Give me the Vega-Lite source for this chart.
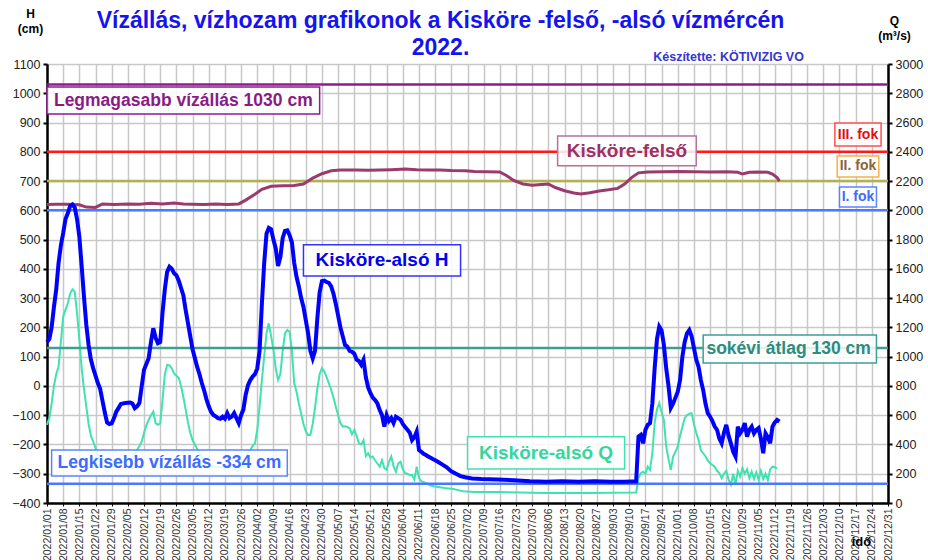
{
 "$schema": "https://vega.github.io/schema/vega-lite/v6.json",
 "width": 841,
 "height": 439,
 "autosize": {"type": "none"},
 "padding": {"left": 47, "top": 64, "right": 40, "bottom": 57},
 "background": "white",
 "config": {"view": {"stroke": null}, "font": "Liberation Sans"},
 "title": {
  "text": ["Vízállás, vízhozam grafikonok a Kisköre -felső, -alsó vízmércén", "2022."],
  "font": "Liberation Sans", "fontSize": 23, "fontWeight": "bold", "color": "#1414F0",
  "anchor": "middle", "frame": "group", "dx": -27, "offset": -53, "lineHeight": 27
 },
 "datasets": {
  "felso": [
   {"date":"2022-01-01","value":620},{"date":"2022-01-05","value":621},{"date":"2022-01-10","value":621},{"date":"2022-01-15","value":619},{"date":"2022-01-18","value":611},{"date":"2022-01-22","value":610},{"date":"2022-01-25","value":622},{"date":"2022-01-30","value":620},{"date":"2022-02-05","value":622},{"date":"2022-02-10","value":621},{"date":"2022-02-15","value":624},{"date":"2022-02-20","value":622},{"date":"2022-02-25","value":625},{"date":"2022-03-01","value":622},{"date":"2022-03-05","value":621},{"date":"2022-03-10","value":620},{"date":"2022-03-15","value":622},{"date":"2022-03-20","value":620},{"date":"2022-03-25","value":622},{"date":"2022-03-28","value":635},{"date":"2022-04-01","value":655},{"date":"2022-04-04","value":672},{"date":"2022-04-08","value":682},{"date":"2022-04-13","value":684},{"date":"2022-04-18","value":685},{"date":"2022-04-22","value":690},{"date":"2022-04-26","value":710},{"date":"2022-04-30","value":725},{"date":"2022-05-04","value":735},{"date":"2022-05-08","value":738},{"date":"2022-05-15","value":738},{"date":"2022-05-20","value":737},{"date":"2022-05-25","value":738},{"date":"2022-05-30","value":739},{"date":"2022-06-05","value":741},{"date":"2022-06-10","value":739},{"date":"2022-06-15","value":738},{"date":"2022-06-20","value":738},{"date":"2022-06-25","value":736},{"date":"2022-07-01","value":735},{"date":"2022-07-05","value":733},{"date":"2022-07-10","value":732},{"date":"2022-07-16","value":731},{"date":"2022-07-19","value":718},{"date":"2022-07-22","value":702},{"date":"2022-07-26","value":690},{"date":"2022-07-30","value":686},{"date":"2022-08-03","value":688},{"date":"2022-08-06","value":690},{"date":"2022-08-09","value":678},{"date":"2022-08-13","value":667},{"date":"2022-08-17","value":659},{"date":"2022-08-20","value":656},{"date":"2022-08-24","value":660},{"date":"2022-08-28","value":666},{"date":"2022-09-01","value":670},{"date":"2022-09-05","value":675},{"date":"2022-09-08","value":690},{"date":"2022-09-11","value":712},{"date":"2022-09-14","value":728},{"date":"2022-09-18","value":731},{"date":"2022-09-25","value":732},{"date":"2022-10-01","value":733},{"date":"2022-10-08","value":732},{"date":"2022-10-15","value":731},{"date":"2022-10-22","value":732},{"date":"2022-10-27","value":730},{"date":"2022-10-29","value":724},{"date":"2022-11-01","value":730},{"date":"2022-11-05","value":731},{"date":"2022-11-09","value":730},{"date":"2022-11-11","value":724},{"date":"2022-11-13","value":712},{"date":"2022-11-14","value":700}
  ],
  "alsoH": [
   {"date":"2022-01-01","value":150},{"date":"2022-01-02","value":160},{"date":"2022-01-03","value":200},{"date":"2022-01-04","value":270},{"date":"2022-01-05","value":330},{"date":"2022-01-06","value":420},{"date":"2022-01-07","value":480},{"date":"2022-01-08","value":522},{"date":"2022-01-09","value":570},{"date":"2022-01-10","value":590},{"date":"2022-01-11","value":615},{"date":"2022-01-12","value":620},{"date":"2022-01-13","value":610},{"date":"2022-01-14","value":570},{"date":"2022-01-15","value":510},{"date":"2022-01-16","value":410},{"date":"2022-01-17","value":305},{"date":"2022-01-18","value":210},{"date":"2022-01-19","value":140},{"date":"2022-01-20","value":90},{"date":"2022-01-21","value":60},{"date":"2022-01-23","value":10},{"date":"2022-01-24","value":-10},{"date":"2022-01-25","value":-50},{"date":"2022-01-26","value":-90},{"date":"2022-01-27","value":-125},{"date":"2022-01-28","value":-130},{"date":"2022-01-29","value":-128},{"date":"2022-01-30","value":-110},{"date":"2022-01-31","value":-88},{"date":"2022-02-01","value":-75},{"date":"2022-02-02","value":-62},{"date":"2022-02-04","value":-58},{"date":"2022-02-06","value":-57},{"date":"2022-02-07","value":-60},{"date":"2022-02-08","value":-76},{"date":"2022-02-09","value":-70},{"date":"2022-02-10","value":-58},{"date":"2022-02-11","value":0},{"date":"2022-02-12","value":55},{"date":"2022-02-13","value":75},{"date":"2022-02-14","value":95},{"date":"2022-02-15","value":150},{"date":"2022-02-16","value":197},{"date":"2022-02-17","value":165},{"date":"2022-02-18","value":146},{"date":"2022-02-19","value":150},{"date":"2022-02-20","value":250},{"date":"2022-02-21","value":330},{"date":"2022-02-22","value":390},{"date":"2022-02-23","value":407},{"date":"2022-02-24","value":400},{"date":"2022-02-25","value":385},{"date":"2022-02-26","value":378},{"date":"2022-02-27","value":360},{"date":"2022-02-28","value":335},{"date":"2022-03-01","value":310},{"date":"2022-03-02","value":260},{"date":"2022-03-03","value":215},{"date":"2022-03-04","value":170},{"date":"2022-03-05","value":125},{"date":"2022-03-06","value":95},{"date":"2022-03-07","value":65},{"date":"2022-03-08","value":40},{"date":"2022-03-09","value":10},{"date":"2022-03-10","value":-15},{"date":"2022-03-11","value":-45},{"date":"2022-03-12","value":-70},{"date":"2022-03-13","value":-88},{"date":"2022-03-14","value":-99},{"date":"2022-03-15","value":-104},{"date":"2022-03-16","value":-110},{"date":"2022-03-17","value":-112},{"date":"2022-03-18","value":-105},{"date":"2022-03-19","value":-112},{"date":"2022-03-20","value":-93},{"date":"2022-03-21","value":-110},{"date":"2022-03-22","value":-105},{"date":"2022-03-23","value":-93},{"date":"2022-03-24","value":-110},{"date":"2022-03-25","value":-127},{"date":"2022-03-26","value":-100},{"date":"2022-03-27","value":-80},{"date":"2022-03-28","value":-30},{"date":"2022-03-29","value":3},{"date":"2022-03-30","value":20},{"date":"2022-03-31","value":32},{"date":"2022-04-01","value":40},{"date":"2022-04-02","value":60},{"date":"2022-04-03","value":120},{"date":"2022-04-04","value":280},{"date":"2022-04-05","value":420},{"date":"2022-04-06","value":520},{"date":"2022-04-07","value":540},{"date":"2022-04-08","value":535},{"date":"2022-04-09","value":500},{"date":"2022-04-10","value":470},{"date":"2022-04-11","value":410},{"date":"2022-04-12","value":440},{"date":"2022-04-13","value":505},{"date":"2022-04-14","value":530},{"date":"2022-04-15","value":532},{"date":"2022-04-16","value":515},{"date":"2022-04-17","value":490},{"date":"2022-04-18","value":420},{"date":"2022-04-19","value":373},{"date":"2022-04-20","value":340},{"date":"2022-04-21","value":300},{"date":"2022-04-22","value":270},{"date":"2022-04-23","value":225},{"date":"2022-04-24","value":180},{"date":"2022-04-25","value":120},{"date":"2022-04-26","value":94},{"date":"2022-04-27","value":120},{"date":"2022-04-28","value":230},{"date":"2022-04-29","value":320},{"date":"2022-04-30","value":358},{"date":"2022-05-01","value":360},{"date":"2022-05-02","value":355},{"date":"2022-05-03","value":352},{"date":"2022-05-04","value":340},{"date":"2022-05-05","value":315},{"date":"2022-05-06","value":280},{"date":"2022-05-07","value":240},{"date":"2022-05-08","value":200},{"date":"2022-05-09","value":170},{"date":"2022-05-10","value":140},{"date":"2022-05-11","value":134},{"date":"2022-05-12","value":120},{"date":"2022-05-13","value":117},{"date":"2022-05-14","value":110},{"date":"2022-05-15","value":90},{"date":"2022-05-16","value":85},{"date":"2022-05-17","value":72},{"date":"2022-05-18","value":89},{"date":"2022-05-19","value":30},{"date":"2022-05-20","value":-5},{"date":"2022-05-21","value":-25},{"date":"2022-05-22","value":-40},{"date":"2022-05-23","value":-48},{"date":"2022-05-24","value":-60},{"date":"2022-05-25","value":-82},{"date":"2022-05-26","value":-100},{"date":"2022-05-27","value":-139},{"date":"2022-05-28","value":-100},{"date":"2022-05-29","value":-120},{"date":"2022-05-30","value":-110},{"date":"2022-05-31","value":-127},{"date":"2022-06-01","value":-105},{"date":"2022-06-02","value":-110},{"date":"2022-06-03","value":-115},{"date":"2022-06-04","value":-130},{"date":"2022-06-05","value":-140},{"date":"2022-06-06","value":-150},{"date":"2022-06-07","value":-160},{"date":"2022-06-08","value":-185},{"date":"2022-06-09","value":-175},{"date":"2022-06-10","value":-156},{"date":"2022-06-11","value":-219},{"date":"2022-06-12","value":-225},{"date":"2022-06-13","value":-232},{"date":"2022-06-14","value":-236},{"date":"2022-06-15","value":-241},{"date":"2022-06-17","value":-250},{"date":"2022-06-19","value":-258},{"date":"2022-06-21","value":-268},{"date":"2022-06-23","value":-278},{"date":"2022-06-25","value":-292},{"date":"2022-06-27","value":-300},{"date":"2022-06-29","value":-308},{"date":"2022-07-01","value":-312},{"date":"2022-07-04","value":-316},{"date":"2022-07-08","value":-318},{"date":"2022-07-15","value":-320},{"date":"2022-07-22","value":-322},{"date":"2022-07-29","value":-326},{"date":"2022-08-05","value":-327},{"date":"2022-08-12","value":-326},{"date":"2022-08-19","value":-327},{"date":"2022-08-26","value":-326},{"date":"2022-09-02","value":-327},{"date":"2022-09-08","value":-327},{"date":"2022-09-13","value":-326},{"date":"2022-09-14","value":-173},{"date":"2022-09-15","value":-167},{"date":"2022-09-16","value":-196},{"date":"2022-09-17","value":-150},{"date":"2022-09-18","value":-133},{"date":"2022-09-19","value":-127},{"date":"2022-09-20","value":-60},{"date":"2022-09-21","value":60},{"date":"2022-09-22","value":160},{"date":"2022-09-23","value":203},{"date":"2022-09-24","value":190},{"date":"2022-09-25","value":140},{"date":"2022-09-26","value":60},{"date":"2022-09-27","value":0},{"date":"2022-09-28","value":-75},{"date":"2022-09-29","value":-60},{"date":"2022-09-30","value":-40},{"date":"2022-10-01","value":-20},{"date":"2022-10-02","value":20},{"date":"2022-10-03","value":100},{"date":"2022-10-04","value":150},{"date":"2022-10-05","value":180},{"date":"2022-10-06","value":191},{"date":"2022-10-07","value":170},{"date":"2022-10-08","value":130},{"date":"2022-10-09","value":90},{"date":"2022-10-10","value":66},{"date":"2022-10-11","value":20},{"date":"2022-10-12","value":-14},{"date":"2022-10-13","value":-60},{"date":"2022-10-14","value":-93},{"date":"2022-10-15","value":-105},{"date":"2022-10-16","value":-120},{"date":"2022-10-17","value":-139},{"date":"2022-10-18","value":-150},{"date":"2022-10-19","value":-180},{"date":"2022-10-20","value":-196},{"date":"2022-10-21","value":-160},{"date":"2022-10-22","value":-133},{"date":"2022-10-23","value":-170},{"date":"2022-10-24","value":-196},{"date":"2022-10-25","value":-225},{"date":"2022-10-26","value":-241},{"date":"2022-10-27","value":-139},{"date":"2022-10-28","value":-162},{"date":"2022-10-29","value":-150},{"date":"2022-10-30","value":-127},{"date":"2022-10-31","value":-173},{"date":"2022-11-01","value":-150},{"date":"2022-11-02","value":-139},{"date":"2022-11-03","value":-162},{"date":"2022-11-04","value":-150},{"date":"2022-11-05","value":-144},{"date":"2022-11-06","value":-180},{"date":"2022-11-07","value":-230},{"date":"2022-11-08","value":-162},{"date":"2022-11-09","value":-175},{"date":"2022-11-10","value":-196},{"date":"2022-11-11","value":-139},{"date":"2022-11-12","value":-125},{"date":"2022-11-13","value":-116},{"date":"2022-11-14","value":-122}
  ],
  "alsoQ": [
   {"date":"2022-01-01","q":534},{"date":"2022-01-02","q":580},{"date":"2022-01-03","q":680},{"date":"2022-01-04","q":800},{"date":"2022-01-05","q":880},{"date":"2022-01-06","q":932},{"date":"2022-01-07","q":1100},{"date":"2022-01-08","q":1274},{"date":"2022-01-09","q":1320},{"date":"2022-01-10","q":1364},{"date":"2022-01-11","q":1430},{"date":"2022-01-12","q":1460},{"date":"2022-01-13","q":1444},{"date":"2022-01-14","q":1300},{"date":"2022-01-15","q":1120},{"date":"2022-01-16","q":920},{"date":"2022-01-17","q":780},{"date":"2022-01-18","q":660},{"date":"2022-01-19","q":540},{"date":"2022-01-20","q":460},{"date":"2022-01-21","q":420},{"date":"2022-01-22","q":374},{"date":"2022-01-23","q":330},{"date":"2022-01-24","q":294},{"date":"2022-01-25","q":260},{"date":"2022-01-26","q":230},{"date":"2022-01-27","q":214},{"date":"2022-01-28","q":230},{"date":"2022-01-29","q":256},{"date":"2022-01-30","q":250},{"date":"2022-01-31","q":276},{"date":"2022-02-01","q":294},{"date":"2022-02-03","q":276},{"date":"2022-02-05","q":290},{"date":"2022-02-07","q":300},{"date":"2022-02-08","q":330},{"date":"2022-02-09","q":362},{"date":"2022-02-10","q":390},{"date":"2022-02-11","q":420},{"date":"2022-02-12","q":480},{"date":"2022-02-13","q":530},{"date":"2022-02-14","q":568},{"date":"2022-02-15","q":600},{"date":"2022-02-16","q":624},{"date":"2022-02-17","q":546},{"date":"2022-02-18","q":534},{"date":"2022-02-19","q":544},{"date":"2022-02-20","q":704},{"date":"2022-02-21","q":880},{"date":"2022-02-22","q":944},{"date":"2022-02-23","q":940},{"date":"2022-02-24","q":920},{"date":"2022-02-25","q":886},{"date":"2022-02-26","q":870},{"date":"2022-02-27","q":856},{"date":"2022-02-28","q":800},{"date":"2022-03-01","q":726},{"date":"2022-03-02","q":640},{"date":"2022-03-03","q":550},{"date":"2022-03-04","q":480},{"date":"2022-03-05","q":430},{"date":"2022-03-06","q":400},{"date":"2022-03-07","q":370},{"date":"2022-03-08","q":340},{"date":"2022-03-09","q":310},{"date":"2022-03-10","q":284},{"date":"2022-03-11","q":260},{"date":"2022-03-13","q":250},{"date":"2022-03-15","q":244},{"date":"2022-03-17","q":248},{"date":"2022-03-19","q":240},{"date":"2022-03-21","q":248},{"date":"2022-03-23","q":230},{"date":"2022-03-25","q":214},{"date":"2022-03-26","q":250},{"date":"2022-03-27","q":276},{"date":"2022-03-28","q":294},{"date":"2022-03-29","q":350},{"date":"2022-03-30","q":362},{"date":"2022-03-31","q":390},{"date":"2022-04-01","q":408},{"date":"2022-04-02","q":500},{"date":"2022-04-03","q":658},{"date":"2022-04-04","q":840},{"date":"2022-04-05","q":1000},{"date":"2022-04-06","q":1160},{"date":"2022-04-07","q":1228},{"date":"2022-04-08","q":1140},{"date":"2022-04-09","q":1046},{"date":"2022-04-10","q":920},{"date":"2022-04-11","q":840},{"date":"2022-04-12","q":880},{"date":"2022-04-13","q":1040},{"date":"2022-04-14","q":1160},{"date":"2022-04-15","q":1182},{"date":"2022-04-16","q":1170},{"date":"2022-04-17","q":1040},{"date":"2022-04-18","q":820},{"date":"2022-04-19","q":760},{"date":"2022-04-20","q":680},{"date":"2022-04-21","q":610},{"date":"2022-04-22","q":540},{"date":"2022-04-23","q":490},{"date":"2022-04-24","q":464},{"date":"2022-04-25","q":466},{"date":"2022-04-26","q":540},{"date":"2022-04-27","q":650},{"date":"2022-04-28","q":780},{"date":"2022-04-29","q":880},{"date":"2022-04-30","q":922},{"date":"2022-05-01","q":900},{"date":"2022-05-02","q":860},{"date":"2022-05-03","q":818},{"date":"2022-05-04","q":772},{"date":"2022-05-05","q":720},{"date":"2022-05-06","q":658},{"date":"2022-05-07","q":600},{"date":"2022-05-08","q":546},{"date":"2022-05-09","q":522},{"date":"2022-05-10","q":524},{"date":"2022-05-11","q":520},{"date":"2022-05-12","q":510},{"date":"2022-05-13","q":470},{"date":"2022-05-14","q":500},{"date":"2022-05-15","q":460},{"date":"2022-05-16","q":408},{"date":"2022-05-17","q":400},{"date":"2022-05-18","q":430},{"date":"2022-05-19","q":320},{"date":"2022-05-20","q":340},{"date":"2022-05-21","q":310},{"date":"2022-05-22","q":318},{"date":"2022-05-23","q":290},{"date":"2022-05-24","q":270},{"date":"2022-05-25","q":248},{"date":"2022-05-26","q":294},{"date":"2022-05-27","q":238},{"date":"2022-05-28","q":226},{"date":"2022-05-29","q":280},{"date":"2022-05-30","q":318},{"date":"2022-05-31","q":250},{"date":"2022-06-01","q":214},{"date":"2022-06-02","q":270},{"date":"2022-06-03","q":282},{"date":"2022-06-04","q":230},{"date":"2022-06-05","q":204},{"date":"2022-06-06","q":200},{"date":"2022-06-07","q":190},{"date":"2022-06-08","q":192},{"date":"2022-06-09","q":160},{"date":"2022-06-10","q":248},{"date":"2022-06-11","q":170},{"date":"2022-06-12","q":150},{"date":"2022-06-14","q":136},{"date":"2022-06-16","q":120},{"date":"2022-06-18","q":112},{"date":"2022-06-20","q":108},{"date":"2022-06-23","q":100},{"date":"2022-06-26","q":96},{"date":"2022-06-28","q":88},{"date":"2022-06-30","q":80},{"date":"2022-07-05","q":76},{"date":"2022-07-15","q":76},{"date":"2022-07-25","q":72},{"date":"2022-08-04","q":68},{"date":"2022-08-14","q":68},{"date":"2022-08-24","q":68},{"date":"2022-09-03","q":70},{"date":"2022-09-13","q":72},{"date":"2022-09-14","q":170},{"date":"2022-09-15","q":204},{"date":"2022-09-16","q":214},{"date":"2022-09-17","q":200},{"date":"2022-09-18","q":248},{"date":"2022-09-19","q":226},{"date":"2022-09-20","q":340},{"date":"2022-09-21","q":546},{"date":"2022-09-22","q":640},{"date":"2022-09-23","q":682},{"date":"2022-09-24","q":620},{"date":"2022-09-25","q":568},{"date":"2022-09-26","q":386},{"date":"2022-09-27","q":300},{"date":"2022-09-28","q":226},{"date":"2022-09-29","q":318},{"date":"2022-09-30","q":350},{"date":"2022-10-01","q":386},{"date":"2022-10-02","q":460},{"date":"2022-10-03","q":520},{"date":"2022-10-04","q":580},{"date":"2022-10-05","q":600},{"date":"2022-10-06","q":610},{"date":"2022-10-07","q":614},{"date":"2022-10-08","q":540},{"date":"2022-10-09","q":480},{"date":"2022-10-10","q":430},{"date":"2022-10-11","q":360},{"date":"2022-10-12","q":340},{"date":"2022-10-13","q":320},{"date":"2022-10-14","q":290},{"date":"2022-10-15","q":272},{"date":"2022-10-16","q":260},{"date":"2022-10-17","q":248},{"date":"2022-10-18","q":220},{"date":"2022-10-19","q":204},{"date":"2022-10-20","q":170},{"date":"2022-10-21","q":200},{"date":"2022-10-22","q":220},{"date":"2022-10-23","q":160},{"date":"2022-10-24","q":124},{"date":"2022-10-25","q":200},{"date":"2022-10-26","q":124},{"date":"2022-10-27","q":220},{"date":"2022-10-28","q":180},{"date":"2022-10-29","q":238},{"date":"2022-10-30","q":200},{"date":"2022-10-31","q":230},{"date":"2022-11-01","q":170},{"date":"2022-11-02","q":214},{"date":"2022-11-03","q":164},{"date":"2022-11-04","q":210},{"date":"2022-11-05","q":160},{"date":"2022-11-06","q":220},{"date":"2022-11-07","q":164},{"date":"2022-11-08","q":200},{"date":"2022-11-09","q":156},{"date":"2022-11-10","q":230},{"date":"2022-11-11","q":248},{"date":"2022-11-12","q":244},{"date":"2022-11-13","q":236}
  ],
  "levels": [
   {"name":"max","value":1030},{"name":"III","value":800},{"name":"II","value":700},{"name":"I","value":600},{"name":"avg","value":130},{"name":"min","value":-334}
  ],
  "notes": [
   {"label":"Legmagasabb vízállás 1030 cm","start":"2022-01-01","end":"2022-04-29","lo":929,"hi":1021,"mid":"2022-03-01","cy":975},
   {"label":"Kisköre-felső","start":"2022-08-10","end":"2022-10-09","lo":752,"hi":854,"mid":"2022-09-09","cy":803},
   {"label":"Kisköre-alsó H","start":"2022-04-22","end":"2022-06-29","lo":376,"hi":482,"mid":"2022-05-26","cy":429},
   {"label":"sokévi átlag 130 cm","start":"2022-10-12","end":"2022-12-26","lo":78,"hi":174,"mid":"2022-11-18","cy":126},
   {"label":"Kisköre-alsó Q","start":"2022-07-02","end":"2022-09-08","lo":-284,"hi":-174,"mid":"2022-08-05","cy":-229},
   {"label":"Legkisebb vízállás -334 cm","start":"2022-01-03","end":"2022-04-15","lo":-308,"hi":-219,"mid":"2022-02-23","cy":-263},
   {"label":"III. fok","start":"2022-12-08","end":"2022-12-28","lo":820,"hi":898,"mid":"2022-12-18","cy":859},
   {"label":"II. fok","start":"2022-12-09","end":"2022-12-27","lo":714,"hi":786,"mid":"2022-12-18","cy":750},
   {"label":"I. fok","start":"2022-12-10","end":"2022-12-26","lo":611,"hi":680,"mid":"2022-12-18","cy":645}
  ],
  "credit": [
   {"label":"Készítette: KÖTIVIZIG VO","date":"2022-10-23","value":1124}
  ]
 },
 "layer": [
  {
   "data": {"name": "alsoQ"},
   "mark": {"type": "line", "color": "#3FE3B1", "strokeWidth": 2},
   "encoding": {
    "x": {
     "field": "date", "type": "temporal",
     "scale": {"type": "utc", "domain": [1640995200000, 1672444800000]},
     "axis": {
      "values": [1640995200000,1641600000000,1642204800000,1642809600000,1643414400000,1644019200000,1644624000000,1645228800000,1645833600000,1646438400000,1647043200000,1647648000000,1648252800000,1648857600000,1649462400000,1650067200000,1650672000000,1651276800000,1651881600000,1652486400000,1653091200000,1653696000000,1654300800000,1654905600000,1655510400000,1656115200000,1656720000000,1657324800000,1657929600000,1658534400000,1659139200000,1659744000000,1660348800000,1660953600000,1661558400000,1662163200000,1662768000000,1663372800000,1663977600000,1664582400000,1665187200000,1665792000000,1666396800000,1667001600000,1667606400000,1668211200000,1668816000000,1669420800000,1670025600000,1670630400000,1671235200000,1671840000000,1672444800000],
      "tickCount": 200,
      "format": "%Y/%m/%d", "labelAngle": 270, "labelFontSize": 10.5, "labelColor": "#333333",
      "labelFont": "Liberation Sans", "labelFlush": false, "labelOverlap": false, "labelBound": false, "labelPadding": 2,
      "grid": true, "gridColor": "#c8c8c8", "gridWidth": 1.5,
      "domainColor": "#000000", "domainWidth": 2.5, "tickColor": "#000000", "tickSize": 3, "tickWidth": 1,
      "title": "idő", "titleFont": "Liberation Sans", "titleFontSize": 13, "titleFontWeight": "bold", "titleColor": "#000000",
      "titleAngle": 0, "titleX": 814, "titleY": 38, "titleAlign": "center", "titleBaseline": "middle"
     }
    },
    "y": {
     "field": "q", "type": "quantitative",
     "scale": {"domain": [0, 3000], "nice": false, "zero": false},
     "axis": {
      "orient": "right", "values": [0,200,400,600,800,1000,1200,1400,1600,1800,2000,2200,2400,2600,2800,3000],
      "tickCount": 100, "format": "d",
      "grid": false, "labelFontSize": 12.5, "labelColor": "#222222", "labelFont": "Liberation Sans", "labelPadding": 3,
      "domainColor": "#000000", "domainWidth": 2.5, "tickColor": "#000000", "tickSize": 4, "tickWidth": 2,
      "title": ["Q", "(m³/s)"], "titleFont": "Liberation Sans", "titleFontSize": 12, "titleFontWeight": "bold", "titleColor": "#000000",
      "titleAngle": 0, "titleX": 6, "titleY": -49, "titleAlign": "center", "titleBaseline": "top", "titleLineHeight": 15
     }
    }
   }
  },
  {
   "layer": [
    {
     "data": {"name": "levels"},
     "mark": {"type": "rule", "strokeWidth": 2.5},
     "encoding": {
      "y": {
       "field": "value", "type": "quantitative",
       "scale": {"domain": [-400, 1100], "nice": false, "zero": false},
       "axis": {
        "orient": "left", "values": [-400,-300,-200,-100,0,100,200,300,400,500,600,700,800,900,1000,1100],
        "tickCount": 100, "format": "d",
        "grid": true, "gridColor": "#c8c8c8", "gridWidth": 1.5,
        "labelFontSize": 12.5, "labelColor": "#222222", "labelFont": "Liberation Sans", "labelPadding": 3,
        "domainColor": "#000000", "domainWidth": 2.5, "tickColor": "#000000", "tickSize": 4, "tickWidth": 2,
        "title": ["H", "(cm)"], "titleFont": "Liberation Sans", "titleFontSize": 12, "titleFontWeight": "bold", "titleColor": "#000000",
        "titleAngle": 0, "titleX": -17, "titleY": -56, "titleAlign": "center", "titleBaseline": "top", "titleLineHeight": 15
       }
      },
      "stroke": {
       "field": "name", "type": "nominal", "legend": null,
       "scale": {"domain": ["max","III","II","I","avg","min"], "range": ["#8E1B8E","#FF1A1A","#B4B04C","#4A7BFF","#3E9E94","#4A78FF"]}
      }
     }
    },
    {
     "data": {"name": "felso"},
     "mark": {"type": "line", "color": "#9B3A6C", "strokeWidth": 3},
     "encoding": {
      "x": {"field": "date", "type": "temporal", "scale": {"type": "utc", "domain": [1640995200000, 1672444800000]}},
      "y": {"field": "value", "type": "quantitative", "scale": {"domain": [-400, 1100], "nice": false, "zero": false}}
     }
    },
    {
     "data": {"name": "alsoH"},
     "mark": {"type": "line", "color": "#0000FF", "strokeWidth": 4},
     "encoding": {
      "x": {"field": "date", "type": "temporal", "scale": {"type": "utc", "domain": [1640995200000, 1672444800000]}},
      "y": {"field": "value", "type": "quantitative", "scale": {"domain": [-400, 1100], "nice": false, "zero": false}}
     }
    },
    {
     "data": {"name": "notes"},
     "mark": {"type": "rect", "fill": "white", "fillOpacity": 0.85, "strokeWidth": 1.5},
     "encoding": {
      "x": {"field": "start", "type": "temporal", "scale": {"type": "utc", "domain": [1640995200000, 1672444800000]}},
      "x2": {"field": "end"},
      "y": {"field": "hi", "type": "quantitative", "scale": {"domain": [-400, 1100], "nice": false, "zero": false}},
      "y2": {"field": "lo"},
      "stroke": {
       "field": "label", "type": "nominal", "legend": null,
       "scale": {
        "domain": ["Legmagasabb vízállás 1030 cm","Kisköre-felső","Kisköre-alsó H","sokévi átlag 130 cm","Kisköre-alsó Q","Legkisebb vízállás -334 cm","III. fok","II. fok","I. fok"],
        "range": ["#8E1B8E","#B8709A","#3333FF","#3E9E94","#40E0B0","#5A85FF","#FF5050","#F5B04A","#5A85FF"]
       }
      }
     }
    },
    {
     "data": {"name": "notes"},
     "transform": [{"filter": {"field": "label", "oneOf": ["Legmagasabb vízállás 1030 cm","sokévi átlag 130 cm","Legkisebb vízállás -334 cm"]}}],
     "mark": {"type": "text", "font": "Liberation Sans", "fontWeight": "bold", "fontSize": 17.5, "align": "center", "baseline": "middle"},
     "encoding": {
      "x": {"field": "mid", "type": "temporal", "scale": {"type": "utc", "domain": [1640995200000, 1672444800000]}},
      "y": {"field": "cy", "type": "quantitative", "scale": {"domain": [-400, 1100], "nice": false, "zero": false}},
      "text": {"field": "label"},
      "color": {
       "field": "label", "type": "nominal", "legend": null,
       "scale": {"domain": ["Legmagasabb vízállás 1030 cm","sokévi átlag 130 cm","Legkisebb vízállás -334 cm"], "range": ["#8B1A89","#2E8B80","#3D6BFF"]}
      }
     }
    },
    {
     "data": {"name": "notes"},
     "transform": [{"filter": {"field": "label", "oneOf": ["Kisköre-felső","Kisköre-alsó H","Kisköre-alsó Q"]}}],
     "mark": {"type": "text", "font": "Liberation Sans", "fontWeight": "bold", "fontSize": 19, "align": "center", "baseline": "middle"},
     "encoding": {
      "x": {"field": "mid", "type": "temporal", "scale": {"type": "utc", "domain": [1640995200000, 1672444800000]}},
      "y": {"field": "cy", "type": "quantitative", "scale": {"domain": [-400, 1100], "nice": false, "zero": false}},
      "text": {"field": "label"},
      "color": {
       "field": "label", "type": "nominal", "legend": null,
       "scale": {"domain": ["Kisköre-felső","Kisköre-alsó H","Kisköre-alsó Q"], "range": ["#993366","#0000F0","#35D6A0"]}
      }
     }
    },
    {
     "data": {"name": "notes"},
     "transform": [{"filter": {"field": "label", "oneOf": ["III. fok","II. fok","I. fok"]}}],
     "mark": {"type": "text", "font": "Liberation Sans", "fontWeight": "bold", "fontSize": 14, "align": "center", "baseline": "middle"},
     "encoding": {
      "x": {"field": "mid", "type": "temporal", "scale": {"type": "utc", "domain": [1640995200000, 1672444800000]}},
      "y": {"field": "cy", "type": "quantitative", "scale": {"domain": [-400, 1100], "nice": false, "zero": false}},
      "text": {"field": "label"},
      "color": {
       "field": "label", "type": "nominal", "legend": null,
       "scale": {"domain": ["III. fok","II. fok","I. fok"], "range": ["#E01010","#8B6536","#3D6BFF"]}
      }
     }
    },
    {
     "data": {"name": "credit"},
     "mark": {"type": "text", "font": "Liberation Sans", "fontWeight": "bold", "fontSize": 12.5, "color": "#3535D0", "align": "center", "baseline": "middle"},
     "encoding": {
      "x": {"field": "date", "type": "temporal", "scale": {"type": "utc", "domain": [1640995200000, 1672444800000]}},
      "y": {"field": "value", "type": "quantitative", "scale": {"domain": [-400, 1100], "nice": false, "zero": false}},
      "text": {"field": "label"}
     }
    }
   ],
   "resolve": {"scale": {"stroke": "independent", "color": "independent"}}
  }
 ],
 "resolve": {"scale": {"y": "independent"}}
}
